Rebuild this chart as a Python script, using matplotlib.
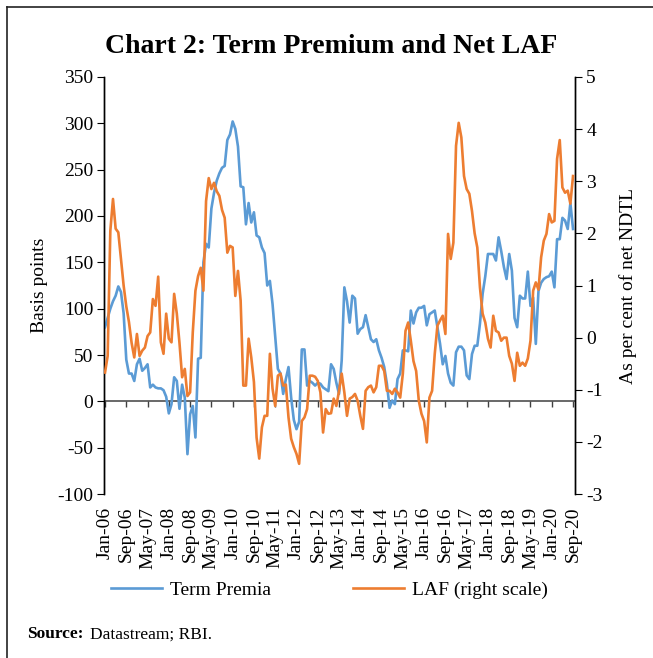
import matplotlib.pyplot as plt
from matplotlib.lines import Line2D
import numpy as np

# ---- data: monthly, Jan-06 .. Sep-20 ----
term_premia = [
    80, 90, 100, 108, 114, 124, 118, 95, 45, 30, 30, 22,        # 2006
    40, 46, 33, 36, 40, 15, 18, 15, 14, 14, 12, 5,              # 2007
    -13, -3, 26, 22, -8, 18, 4, -57, -14, -5, -39, 46,          # 2008
    47, 150, 170, 166, 208, 225, 238, 246, 252, 254, 282, 288,  # 2009
    302, 294, 275, 232, 231, 191, 214, 193, 204, 179, 177, 166, # 2010
    160, 125, 130, 105, 70, 35, 30, 8, 24, 37, 4, -20,          # 2011
    -30, -22, 56, 56, 17, 22, 20, 17, 20, 19, 15, 13,           # 2012
    11, 40, 35, 20, 8, 44, 123, 108, 85, 114, 111, 73,          # 2013
    78, 80, 93, 80, 67, 64, 67, 55, 47, 37, 19, -7,             # 2014
    1, -3, 24, 30, 55, 55, 54, 98, 84, 96, 101, 101,            # 2015
    103, 82, 94, 96, 98, 80, 62, 40, 49, 30, 20, 17,            # 2016
    53, 59, 59, 55, 28, 24, 51, 60, 60, 84, 116, 135,           # 2017
    159, 159, 159, 152, 177, 162, 145, 132, 159, 141, 90, 80,   # 2018
    114, 111, 111, 140, 103, 112, 62, 119, 128, 132, 134, 135,  # 2019
    140, 123, 175, 175, 198, 195, 186, 214, 186,                # 2020
]

laf = [
    -0.67, -0.35, 2.05, 2.66, 2.09, 2.02, 1.50, 1.00, 0.60, 0.30, -0.10, -0.38,
    0.07, -0.35, -0.25, -0.19, 0.03, 0.10, 0.74, 0.61, 1.17, -0.09, -0.31, 0.46,
    -0.02, -0.09, 0.84, 0.46, -0.10, -0.76, -0.60, -1.12, -1.05, 0.10, 0.90, 1.18,
    1.34, 0.90, 2.62, 3.06, 2.85, 2.97, 2.81, 2.72, 2.45, 2.30, 1.63, 1.76,
    1.73, 0.80, 1.28, 0.71, -0.92, -0.92, -0.02, -0.38, -0.85, -1.92, -2.32, -1.72,
    -1.50, -1.50, -0.31, -0.98, -1.31, -0.73, -0.69, -0.92, -0.90, -1.53, -1.94, -2.10,
    -2.23, -2.42, -1.60, -1.53, -1.37, -0.73, -0.73, -0.75, -0.83, -1.05, -1.82, -1.37,
    -1.46, -1.45, -1.17, -1.31, -1.02, -0.69, -1.05, -1.50, -1.17, -1.14, -1.08, -1.21,
    -1.50, -1.75, -1.02, -0.95, -0.92, -1.05, -0.95, -0.54, -0.54, -0.64, -1.02, -1.02,
    -1.08, -0.98, -1.05, -1.15, -0.69, 0.13, 0.29, -0.06, -0.45, -0.64, -1.21, -1.46,
    -1.60, -2.01, -1.15, -1.02, -0.31, 0.23, 0.33, 0.42, 0.07, 1.99, 1.51, 1.82,
    3.68, 4.12, 3.84, 3.10, 2.85, 2.76, 2.43, 2.00, 1.73, 0.96, 0.46, 0.29,
    -0.02, -0.19, 0.42, 0.13, 0.10, -0.06, 0.00, 0.00, -0.35, -0.50, -0.83, -0.29,
    -0.54, -0.48, -0.54, -0.40, -0.06, 0.90, 1.06, 0.92, 1.54, 1.86, 1.99, 2.37,
    2.21, 2.24, 3.43, 3.79, 2.88, 2.78, 2.82, 2.57, 3.10,
]

tick_labels = [
    "Jan-06", "Sep-06", "May-07", "Jan-08", "Sep-08", "May-09", "Jan-10", "Sep-10",
    "May-11", "Jan-12", "Sep-12", "May-13", "Jan-14", "Sep-14", "May-15", "Jan-16",
    "Sep-16", "May-17", "Jan-18", "Sep-18", "May-19", "Jan-20", "Sep-20",
]

BLUE = "#5B9BD5"
ORANGE = "#ED7D31"
SERIF = "Liberation Serif"

plt.rcParams["font.family"] = SERIF
plt.rcParams["axes.unicode_minus"] = False

months = np.arange(len(term_premia))

fig = plt.figure(figsize=(6.53, 6.58), dpi=100)
ax = fig.add_axes([0.160, 0.2492, 0.7206, 0.6338])
ax2 = ax.twinx()

ax.plot(months, term_premia, color=BLUE, linewidth=1.9, label="Term Premia", zorder=3)
ax2.plot(months, laf, color=ORANGE, linewidth=1.9, label="LAF (right scale)", zorder=3)

ax.set_xlim(-0.2, 176.75)
ax.set_ylim(-100, 350)
ax.set_yticks(np.arange(-100, 351, 50))
ax2.set_ylim(-3, 5)
ax2.set_yticks(np.arange(-3, 6, 1))

# x tick labels at the bottom, tick marks on the zero line
tick_pos = np.arange(0, len(term_premia), 8)
ax.set_xticks(tick_pos)
ax.set_xticklabels(tick_labels, rotation=90)
ax.tick_params(axis="x", length=0, pad=9, labelsize=14)
ax.axhline(0, color="#404040", linewidth=1.1, zorder=2)
zero_axis = ax.secondary_xaxis(0, transform=ax.transData)
zero_axis.set_xticks(tick_pos)
zero_axis.set_xticklabels([])
zero_axis.tick_params(axis="x", length=4, width=1, color="#404040", direction="out")
zero_axis.spines["bottom"].set_visible(False)

for a in (ax, ax2):
    a.spines["top"].set_visible(False)
    a.spines["bottom"].set_visible(False)
    a.spines["left"].set_linewidth(1.0)
    a.spines["right"].set_linewidth(1.0)
ax.tick_params(axis="y", length=5, labelsize=14, pad=3)
ax2.tick_params(axis="y", length=5, labelsize=14, pad=3)

ax.set_ylabel("Basis points", fontsize=14, labelpad=7)
ax2.set_ylabel("As per cent of net NDTL", fontsize=14, labelpad=12)

fig.text(0.507, 0.930, "Chart 2: Term Premium and Net LAF", ha="center", va="center",
         fontsize=20, fontweight="bold")

h1, l1 = ax.get_legend_handles_labels()
h2, l2 = ax2.get_legend_handles_labels()
fig.legend(h1 + h2, l1 + l2, loc="center", bbox_to_anchor=(0.505, 0.103), ncol=2,
           frameon=False, fontsize=14, handlelength=2.6, handletextpad=0.45,
           columnspacing=4.2)

fig.text(0.041, 0.036, "Source:", fontsize=12.5, fontweight="bold", va="center")
fig.text(0.138, 0.036, "Datastream; RBI.", fontsize=12.5, va="center")

# page frame (left and top rules)
fig.add_artist(Line2D([0.011, 0.011], [0.0, 0.989], color="#222222", linewidth=1.2))
fig.add_artist(Line2D([0.011, 1.0], [0.989, 0.989], color="#222222", linewidth=1.2))

fig.savefig("out.png", dpi=100)
